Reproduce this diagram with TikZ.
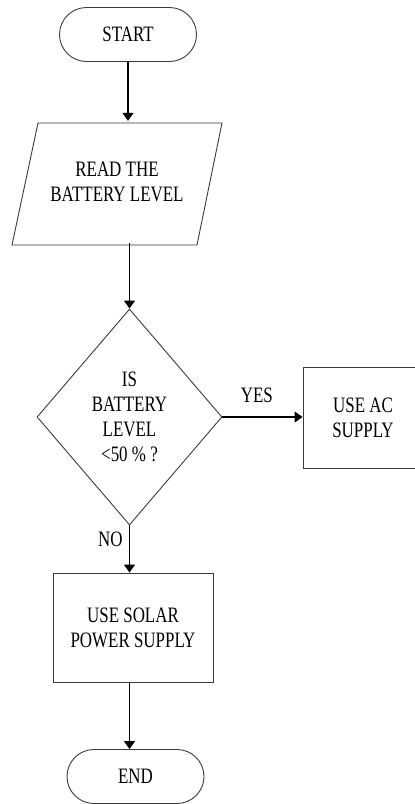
\documentclass[tikz,border=0pt]{standalone}
\usepackage{fontspec}
\setmainfont{Liberation Serif}[FakeStretch=0.77]
\usetikzlibrary{arrows.meta,shapes.geometric}
\definecolor{edge}{HTML}{3A3A3A}
\tikzset{
  font=\fontsize{22}{25}\selectfont,
  >={Triangle[length=8pt,width=11pt]},
  term/.style={draw=edge, line width=.9pt, rounded corners=27pt,
               minimum width=137pt, minimum height=54pt},
  proc/.style={draw=edge, line width=.9pt, align=center},
  cond/.style={diamond, draw=edge, line width=.9pt, align=center, aspect=0.86,
               inner sep=0pt, minimum width=185pt, minimum height=216pt},
  flow/.style={draw=black, line width=1.3pt, ->}
}
\begin{document}
\begin{tikzpicture}[x=1pt,y=-1pt]
\useasboundingbox (0,0) rectangle (415,804);

% terminals, input, decision and actions
\node[term] (start) at (128,34.5) {START};
\draw[draw=edge, line width=.9pt] (38,123) -- (222,123) -- (197,245) -- (12,245) -- cycle;
\node[align=center, minimum height=122pt, inner sep=0pt] (read) at (117,182)
  {READ THE\\BATTERY LEVEL};
\node[cond] (dec) at (129.5,417) {IS\\BATTERY\\LEVEL\\<50 \% ?};
\node[proc, minimum width=120pt, minimum height=101pt] (ac) at (363,417.5)
  {USE AC\\SUPPLY};
\node[proc, minimum width=160pt, minimum height=109pt] (solar) at (133,627.5)
  {USE SOLAR\\POWER SUPPLY};
\node[term] (end) at (135.5,776.5) {END};

% connectors
\draw[flow] (start.south) -- (start.south |- read.north);
\draw[flow] (dec.north |- read.south) -- (dec.north);
\draw[flow] (dec.east) -- node[pos=.43, above=10pt] {YES} (dec.east -| ac.west);
\draw[flow] (dec.south) -- node[pos=.29, left=3pt] {NO} (dec.south |- solar.north);
\draw[flow] (dec.south |- solar.south) -- (dec.south |- end.north);

\end{tikzpicture}
\end{document}
